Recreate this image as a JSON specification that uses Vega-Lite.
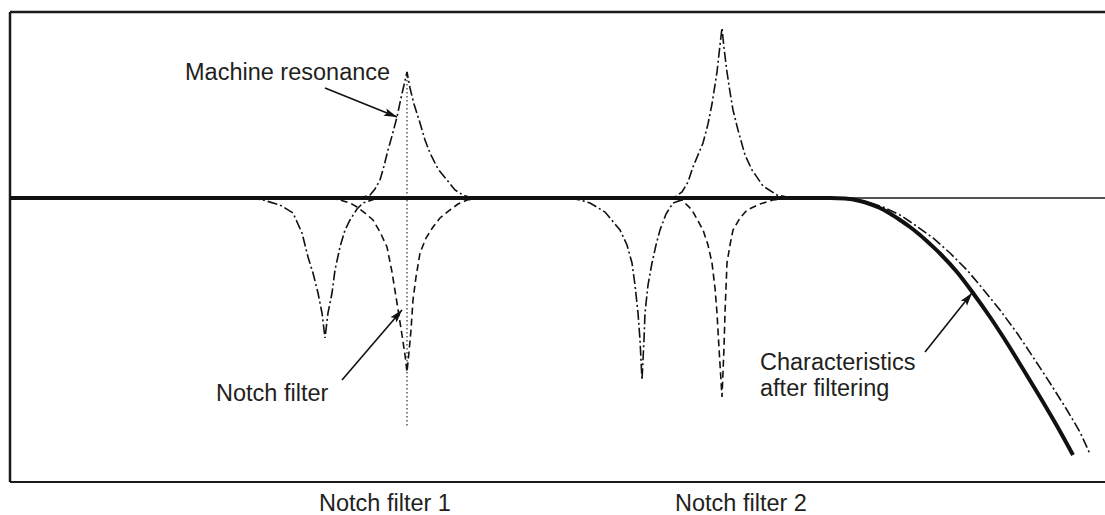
{
  "$schema": "https://vega.github.io/schema/vega-lite/v6.json",
  "width": 1095,
  "height": 470,
  "autosize": {"type": "none"},
  "padding": {"left": 10, "top": 12, "right": 0, "bottom": 33},
  "background": "white",
  "config": {"view": {"stroke": null}},
  "data": {"values": [{"k": 1}]},
  "datasets": {
    "dashdot": [
      {"seg": "r", "f": 10, "g": 0}, {"seg": "r", "f": 360, "g": 0}, {"seg": "r", "f": 370, "g": 3}, {"seg": "r", "f": 375, "g": 9}, {"seg": "r", "f": 380, "g": 18}, {"seg": "r", "f": 384, "g": 32}, {"seg": "r", "f": 388, "g": 48}, {"seg": "r", "f": 392, "g": 62}, {"seg": "r", "f": 397, "g": 81}, {"seg": "r", "f": 401, "g": 100}, {"seg": "r", "f": 404, "g": 113}, {"seg": "r", "f": 407, "g": 126}, {"seg": "r", "f": 410, "g": 110}, {"seg": "r", "f": 414, "g": 94}, {"seg": "r", "f": 420, "g": 75}, {"seg": "r", "f": 425, "g": 58}, {"seg": "r", "f": 430, "g": 45}, {"seg": "r", "f": 438, "g": 29}, {"seg": "r", "f": 447, "g": 18}, {"seg": "r", "f": 455, "g": 8}, {"seg": "r", "f": 463, "g": 3}, {"seg": "r", "f": 472, "g": 0},
      {"seg": "r", "f": 670, "g": 0}, {"seg": "r", "f": 675, "g": 1}, {"seg": "r", "f": 682, "g": 6}, {"seg": "r", "f": 688, "g": 16}, {"seg": "r", "f": 693, "g": 31}, {"seg": "r", "f": 698, "g": 43}, {"seg": "r", "f": 703, "g": 55}, {"seg": "r", "f": 708, "g": 74}, {"seg": "r", "f": 712, "g": 94}, {"seg": "r", "f": 717, "g": 126}, {"seg": "r", "f": 720, "g": 153}, {"seg": "r", "f": 722, "g": 170}, {"seg": "r", "f": 724, "g": 150}, {"seg": "r", "f": 727, "g": 126}, {"seg": "r", "f": 730, "g": 106}, {"seg": "r", "f": 733, "g": 88}, {"seg": "r", "f": 738, "g": 68}, {"seg": "r", "f": 745, "g": 43}, {"seg": "r", "f": 752, "g": 28}, {"seg": "r", "f": 763, "g": 12}, {"seg": "r", "f": 777, "g": 3}, {"seg": "r", "f": 792, "g": 0},
      {"seg": "r", "f": 830, "g": 0}, {"seg": "r", "f": 850, "g": -1}, {"seg": "r", "f": 870, "g": -5}, {"seg": "r", "f": 883, "g": -9}, {"seg": "r", "f": 900, "g": -17}, {"seg": "r", "f": 915, "g": -27}, {"seg": "r", "f": 933, "g": -40}, {"seg": "r", "f": 950, "g": -55}, {"seg": "r", "f": 967, "g": -72}, {"seg": "r", "f": 983, "g": -91}, {"seg": "r", "f": 1000, "g": -112}, {"seg": "r", "f": 1017, "g": -135}, {"seg": "r", "f": 1033, "g": -159}, {"seg": "r", "f": 1050, "g": -185}, {"seg": "r", "f": 1067, "g": -212}, {"seg": "r", "f": 1080, "g": -234}, {"seg": "r", "f": 1090, "g": -256},
      {"seg": "n1", "f": 250, "g": 0}, {"seg": "n1", "f": 263, "g": -2}, {"seg": "n1", "f": 280, "g": -7}, {"seg": "n1", "f": 293, "g": -15}, {"seg": "n1", "f": 302, "g": -35}, {"seg": "n1", "f": 308, "g": -59}, {"seg": "n1", "f": 313, "g": -75}, {"seg": "n1", "f": 318, "g": -95}, {"seg": "n1", "f": 322, "g": -115}, {"seg": "n1", "f": 325, "g": -140}, {"seg": "n1", "f": 328, "g": -115}, {"seg": "n1", "f": 332, "g": -95}, {"seg": "n1", "f": 335, "g": -72}, {"seg": "n1", "f": 340, "g": -49}, {"seg": "n1", "f": 345, "g": -32}, {"seg": "n1", "f": 350, "g": -22}, {"seg": "n1", "f": 357, "g": -11}, {"seg": "n1", "f": 363, "g": -5}, {"seg": "n1", "f": 375, "g": -1}, {"seg": "n1", "f": 390, "g": 0},
      {"seg": "n2", "f": 570, "g": 0}, {"seg": "n2", "f": 580, "g": -2}, {"seg": "n2", "f": 590, "g": -5}, {"seg": "n2", "f": 605, "g": -14}, {"seg": "n2", "f": 620, "g": -32}, {"seg": "n2", "f": 627, "g": -47}, {"seg": "n2", "f": 632, "g": -65}, {"seg": "n2", "f": 635, "g": -87}, {"seg": "n2", "f": 638, "g": -115}, {"seg": "n2", "f": 640, "g": -142}, {"seg": "n2", "f": 642, "g": -182}, {"seg": "n2", "f": 644, "g": -142}, {"seg": "n2", "f": 645, "g": -115}, {"seg": "n2", "f": 648, "g": -87}, {"seg": "n2", "f": 652, "g": -65}, {"seg": "n2", "f": 656, "g": -47}, {"seg": "n2", "f": 660, "g": -32}, {"seg": "n2", "f": 666, "g": -16}, {"seg": "n2", "f": 673, "g": -5}, {"seg": "n2", "f": 685, "g": -1}, {"seg": "n2", "f": 700, "g": 0}
    ],
    "dashed": [
      {"seg": "d1", "f": 330, "g": 0}, {"seg": "d1", "f": 340, "g": -2}, {"seg": "d1", "f": 350, "g": -5}, {"seg": "d1", "f": 357, "g": -9}, {"seg": "d1", "f": 365, "g": -15}, {"seg": "d1", "f": 373, "g": -22}, {"seg": "d1", "f": 380, "g": -34}, {"seg": "d1", "f": 387, "g": -49}, {"seg": "d1", "f": 392, "g": -74}, {"seg": "d1", "f": 397, "g": -105}, {"seg": "d1", "f": 402, "g": -137}, {"seg": "d1", "f": 405, "g": -157}, {"seg": "d1", "f": 407, "g": -174}, {"seg": "d1", "f": 409, "g": -154}, {"seg": "d1", "f": 411, "g": -132}, {"seg": "d1", "f": 413, "g": -102}, {"seg": "d1", "f": 416, "g": -79}, {"seg": "d1", "f": 420, "g": -55}, {"seg": "d1", "f": 426, "g": -40}, {"seg": "d1", "f": 433, "g": -29}, {"seg": "d1", "f": 440, "g": -20}, {"seg": "d1", "f": 450, "g": -12}, {"seg": "d1", "f": 458, "g": -6}, {"seg": "d1", "f": 467, "g": -2}, {"seg": "d1", "f": 480, "g": 0},
      {"seg": "d2", "f": 665, "g": 0}, {"seg": "d2", "f": 682, "g": -2}, {"seg": "d2", "f": 692, "g": -12}, {"seg": "d2", "f": 703, "g": -32}, {"seg": "d2", "f": 708, "g": -47}, {"seg": "d2", "f": 712, "g": -65}, {"seg": "d2", "f": 715, "g": -90}, {"seg": "d2", "f": 717, "g": -115}, {"seg": "d2", "f": 719, "g": -150}, {"seg": "d2", "f": 722, "g": -199}, {"seg": "d2", "f": 724, "g": -150}, {"seg": "d2", "f": 725, "g": -115}, {"seg": "d2", "f": 726, "g": -90}, {"seg": "d2", "f": 727, "g": -65}, {"seg": "d2", "f": 730, "g": -47}, {"seg": "d2", "f": 733, "g": -32}, {"seg": "d2", "f": 740, "g": -20}, {"seg": "d2", "f": 747, "g": -12}, {"seg": "d2", "f": 760, "g": -6}, {"seg": "d2", "f": 773, "g": -2}, {"seg": "d2", "f": 790, "g": 0}
    ],
    "thick": [
      {"f": 10, "g": 0}, {"f": 830, "g": 0}, {"f": 845, "g": -0.5}, {"f": 860, "g": -3}, {"f": 870, "g": -6}, {"f": 880, "g": -10}, {"f": 890, "g": -15.5}, {"f": 900, "g": -22}, {"f": 910, "g": -29}, {"f": 920, "g": -37}, {"f": 930, "g": -46}, {"f": 940, "g": -55.5}, {"f": 957, "g": -74}, {"f": 973, "g": -95}, {"f": 990, "g": -119}, {"f": 1007, "g": -145}, {"f": 1023, "g": -171}, {"f": 1040, "g": -199}, {"f": 1057, "g": -228}, {"f": 1073, "g": -257}
    ],
    "arrows": [
      {"name": "res", "f": 325, "g": 110, "f2": 397, "g2": 81},
      {"name": "notch", "f": 342, "g": -182, "f2": 402, "g2": -112},
      {"name": "char", "f": 925, "g": -154, "f2": 972, "g2": -95}
    ],
    "labels": [
      {"t": "Machine resonance", "f": 185, "g": 118},
      {"t": "Notch filter", "f": 216, "g": -203},
      {"t": "Characteristics", "f": 760, "g": -172},
      {"t": "after filtering", "f": 760, "g": -198},
      {"t": "Notch filter 1", "f": 319, "g": -313},
      {"t": "Notch filter 2", "f": 675, "g": -313}
    ]
  },
  "layer": [
    {
      "data": {"name": "thick"},
      "mark": {"type": "line", "strokeWidth": 0, "opacity": 0},
      "encoding": {
        "x": {"field": "f", "type": "quantitative", "scale": {"domain": [10, 1105], "nice": false, "zero": false}, "axis": null},
        "y": {"field": "g", "type": "quantitative", "scale": {"domain": [-284, 186], "nice": false, "zero": false}, "axis": null}
      }
    },
    {
      "mark": {"type": "rule", "color": "#1a1a1a", "strokeWidth": 2.5},
      "encoding": {"y": {"datum": 186, "type": "quantitative"}}
    },
    {
      "mark": {"type": "rule", "color": "#1a1a1a", "strokeWidth": 2.2},
      "encoding": {"y": {"datum": -284, "type": "quantitative"}}
    },
    {
      "mark": {"type": "rule", "color": "#1a1a1a", "strokeWidth": 2.5},
      "encoding": {"x": {"datum": 10, "type": "quantitative"}}
    },
    {
      "mark": {"type": "rule", "color": "#1a1a1a", "strokeWidth": 1.3},
      "encoding": {"y": {"datum": 0, "type": "quantitative"}}
    },
    {
      "mark": {"type": "rule", "color": "#1a1a1a", "strokeWidth": 1.1, "strokeDash": [1.5, 2.5]},
      "encoding": {
        "x": {"datum": 407, "type": "quantitative"},
        "y": {"datum": 126, "type": "quantitative"},
        "y2": {"datum": -230}
      }
    },
    {
      "data": {"name": "dashed"},
      "mark": {"type": "line", "color": "#111111", "strokeWidth": 1.6, "strokeDash": [7, 4]},
      "encoding": {
        "x": {"field": "f", "type": "quantitative"},
        "y": {"field": "g", "type": "quantitative"},
        "detail": {"field": "seg"}
      }
    },
    {
      "data": {"name": "dashdot"},
      "mark": {"type": "line", "color": "#111111", "strokeWidth": 1.6, "strokeDash": [10, 3, 2, 3]},
      "encoding": {
        "x": {"field": "f", "type": "quantitative"},
        "y": {"field": "g", "type": "quantitative"},
        "detail": {"field": "seg"}
      }
    },
    {
      "data": {"name": "thick"},
      "mark": {"type": "line", "color": "#111111", "strokeWidth": 4, "interpolate": "monotone"},
      "encoding": {
        "x": {"field": "f", "type": "quantitative"},
        "y": {"field": "g", "type": "quantitative"}
      }
    },
    {
      "data": {"name": "arrows"},
      "mark": {"type": "rule", "color": "#111111", "strokeWidth": 1.6},
      "encoding": {
        "x": {"field": "f", "type": "quantitative"},
        "y": {"field": "g", "type": "quantitative"},
        "x2": {"field": "f2"},
        "y2": {"field": "g2"}
      }
    },
    {
      "data": {"name": "arrows"},
      "transform": [{"filter": "datum.name === 'res'"}],
      "mark": {"type": "point", "shape": "M0,0 L-2.6,-0.8 L-2.1,0 L-2.6,0.8 Z", "filled": true, "color": "#111111", "opacity": 1, "size": 100, "angle": 21.9},
      "encoding": {
        "x": {"field": "f2", "type": "quantitative"},
        "y": {"field": "g2", "type": "quantitative"}
      }
    },
    {
      "data": {"name": "arrows"},
      "transform": [{"filter": "datum.name === 'notch'"}],
      "mark": {"type": "point", "shape": "M0,0 L-2.6,-0.8 L-2.1,0 L-2.6,0.8 Z", "filled": true, "color": "#111111", "opacity": 1, "size": 100, "angle": -49.4},
      "encoding": {
        "x": {"field": "f2", "type": "quantitative"},
        "y": {"field": "g2", "type": "quantitative"}
      }
    },
    {
      "data": {"name": "arrows"},
      "transform": [{"filter": "datum.name === 'char'"}],
      "mark": {"type": "point", "shape": "M0,0 L-2.6,-0.8 L-2.1,0 L-2.6,0.8 Z", "filled": true, "color": "#111111", "opacity": 1, "size": 100, "angle": -51.5},
      "encoding": {
        "x": {"field": "f2", "type": "quantitative"},
        "y": {"field": "g2", "type": "quantitative"}
      }
    },
    {
      "data": {"name": "labels"},
      "mark": {"type": "text", "align": "left", "baseline": "alphabetic", "font": "Liberation Sans", "fontSize": 23.5, "color": "#231f20"},
      "encoding": {
        "x": {"field": "f", "type": "quantitative"},
        "y": {"field": "g", "type": "quantitative"},
        "text": {"field": "t"}
      }
    }
  ]
}
